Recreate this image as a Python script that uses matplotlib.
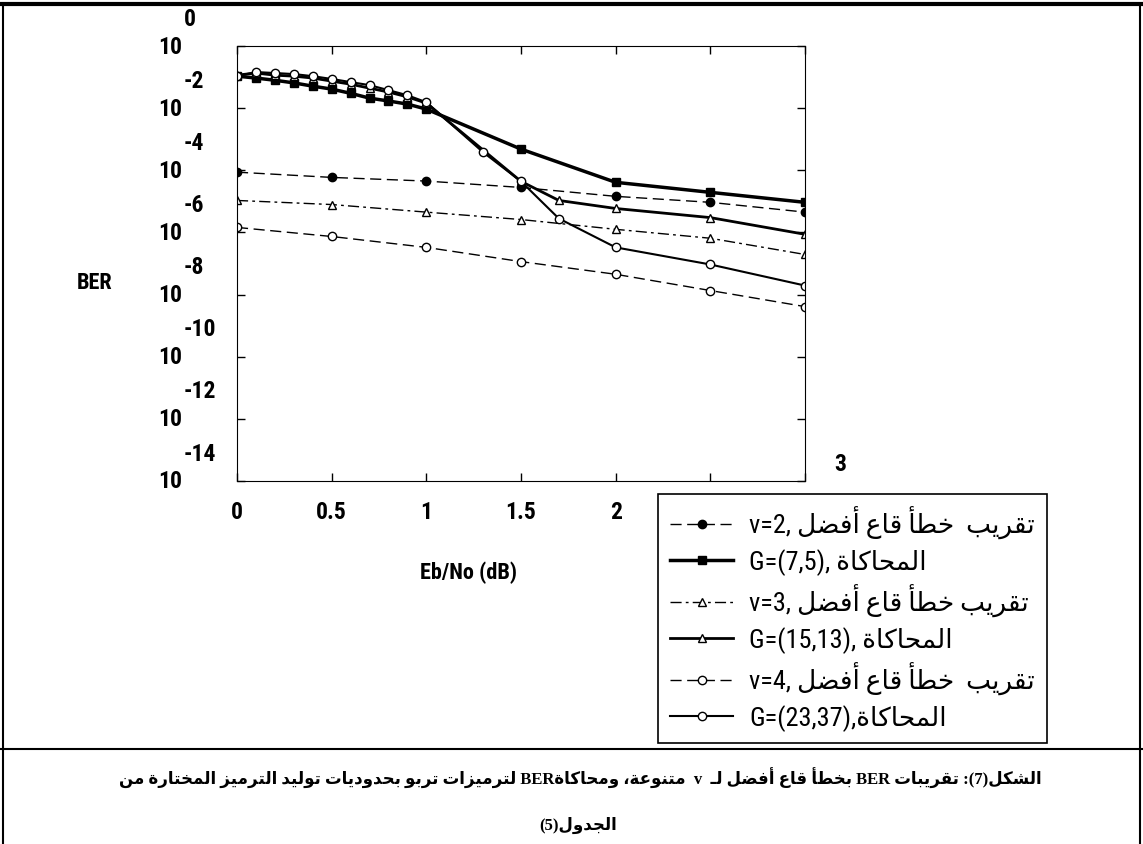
import matplotlib
matplotlib.use('Agg')
import matplotlib.pyplot as plt
from matplotlib import font_manager
from matplotlib.lines import Line2D
from matplotlib.transforms import blended_transform_factory

# ---- data (Eb/No in dB, BER) ----
x_v2_sim = [0, 0.1, 0.2, 0.3, 0.4, 0.5, 0.6, 0.7, 0.8, 0.9, 1.0, 1.5, 2.0, 2.5, 3.0]
ber_v2_sim = [1.07e-1, 9.3e-2, 7.9e-2, 6.5e-2, 5.1e-2, 4.1e-2, 3.0e-2, 2.1e-2, 1.7e-2,
              1.35e-2, 9.3e-3, 4.8e-4, 4.1e-5, 1.95e-5, 9.3e-6]

x_v3_sim = [0, 0.1, 0.2, 0.3, 0.4, 0.5, 0.6, 0.7, 0.8, 0.9, 1.0, 1.5, 1.7, 2.0, 2.5, 3.0]
ber_v3_sim = [1.15e-1, 1.35e-1, 1.15e-1, 1.07e-1, 9.3e-2, 7.4e-2, 5.9e-2, 4.4e-2, 3.3e-2,
              2.3e-2, 1.45e-2, 4.4e-5, 1.07e-5, 5.9e-6, 3.0e-6, 8.7e-7]

x_v4_sim = [0, 0.1, 0.2, 0.3, 0.4, 0.5, 0.6, 0.7, 0.8, 0.9, 1.0, 1.3, 1.5, 1.7, 2.0, 2.5, 3.0]
ber_v4_sim = [1.07e-1, 1.45e-1, 1.35e-1, 1.25e-1, 1.07e-1, 8.7e-2, 6.9e-2, 5.5e-2, 3.8e-2,
              2.6e-2, 1.55e-2, 3.8e-4, 4.4e-5, 2.8e-6, 3.3e-7, 9.3e-8, 1.95e-8]

x_bound = [0, 0.5, 1.0, 1.5, 2.0, 2.5, 3.0]
ber_v2_bound = [8.7e-5, 5.9e-5, 4.5e-5, 2.8e-5, 1.45e-5, 9.3e-6, 4.5e-6]
ber_v3_bound = [1.07e-5, 7.9e-6, 4.5e-6, 2.6e-6, 1.26e-6, 6.5e-7, 1.95e-7]
ber_v4_bound = [1.45e-6, 7.4e-7, 3.3e-7, 1.15e-7, 4.5e-8, 1.35e-8, 4.1e-9]

x_ticks = [0, 0.5, 1, 1.5, 2, 2.5, 3]
x_ticklabels = ['0', '0.5', '1', '1.5', '2', '', '']
y_exponents = [0, -2, -4, -6, -8, -10, -12, -14]


# ---- minimal Arabic shaping (matplotlib has no RTL/joining support) ----
FORMS = {
    'ء': (0xFE80, 1), 'آ': (0xFE81, 2), 'أ': (0xFE83, 2), 'ؤ': (0xFE85, 2), 'إ': (0xFE87, 2),
    'ئ': (0xFE89, 4), 'ا': (0xFE8D, 2), 'ب': (0xFE8F, 4), 'ة': (0xFE93, 2), 'ت': (0xFE95, 4),
    'ث': (0xFE99, 4), 'ج': (0xFE9D, 4), 'ح': (0xFEA1, 4), 'خ': (0xFEA5, 4), 'د': (0xFEA9, 2),
    'ذ': (0xFEAB, 2), 'ر': (0xFEAD, 2), 'ز': (0xFEAF, 2), 'س': (0xFEB1, 4), 'ش': (0xFEB5, 4),
    'ص': (0xFEB9, 4), 'ض': (0xFEBD, 4), 'ط': (0xFEC1, 4), 'ظ': (0xFEC5, 4), 'ع': (0xFEC9, 4),
    'غ': (0xFECD, 4), 'ف': (0xFED1, 4), 'ق': (0xFED5, 4), 'ك': (0xFED9, 4), 'ل': (0xFEDD, 4),
    'م': (0xFEE1, 4), 'ن': (0xFEE5, 4), 'ه': (0xFEE9, 4), 'و': (0xFEED, 2), 'ى': (0xFEEF, 2),
    'ي': (0xFEF1, 4),
}
LAM_ALEF = {'آ': 0xFEF5, 'أ': 0xFEF7, 'إ': 0xFEF9, 'ا': 0xFEFB}
TATWEEL = '\u0640'


def joins_forward(c):
    return c == TATWEEL or (c in FORMS and FORMS[c][1] == 4)


def is_joiner(c):
    return c == TATWEEL or (c in FORMS and FORMS[c][1] > 1)


def ar(text):
    """shape a pure Arabic phrase and return it in visual (left to right) order"""
    out = []
    i, n = 0, len(text)
    while i < n:
        c = text[i]
        linked_prev = i > 0 and joins_forward(text[i - 1])
        if c == 'ل' and i + 1 < n and text[i + 1] in LAM_ALEF:
            out.append(chr(LAM_ALEF[text[i + 1]] + (1 if linked_prev else 0)))
            i += 2
            continue
        if c in FORMS:
            base, k = FORMS[c]
            linked_next = k == 4 and i + 1 < n and is_joiner(text[i + 1])
            if k == 1:
                code = base
            elif linked_prev and linked_next:
                code = base + 3
            elif linked_prev:
                code = base + 1
            elif linked_next:
                code = base + 2
            else:
                code = base
            out.append(chr(code))
        else:
            out.append(c)
        i += 1
    return ''.join(reversed(out))


available = {f.name for f in font_manager.fontManager.ttflist}
narrow = next((f for f in ['Liberation Sans Narrow', 'DejaVu Sans Condensed', 'Roboto Condensed']
               if f in available), 'DejaVu Sans')
label_font = [narrow, 'DejaVu Sans']
caption_font = ['Liberation Serif', 'DejaVu Sans']

legend_labels = [
    'v=2, ' + ar('تقريب  خطأ قاع أفضل'),
    'G=(7,5), ' + ar('المحاكاة'),
    'v=3, ' + ar('تقريب خطأ قاع أفضل'),
    'G=(15,13), ' + ar('المحاكاة'),
    'v=4, ' + ar('تقريب  خطأ قاع أفضل'),
    'G=(23,37),' + ar('المحاكاة'),
]

caption_1 = (ar('لترميزات تربو بحدوديات توليد الترميز المختارة من') + ' BER'
             + ar('متنوعة، ومحاكاة') + '  v  ' + ar('بخطأ قاع أفضل لـ') + ' BER '
             + ar('تقريبات') + ' :(7)' + ar('الشكل'))
caption_2 = '(5)' + ar('الجدول')

W, H = 1143, 845
fig = plt.figure(figsize=(W / 100, H / 100), dpi=100)
ax = fig.add_axes([237 / W, 1 - 482 / H, (805 - 237) / W, (482 - 47) / H])

k = dict(color='black', markersize=6)
l1, = ax.plot(x_bound, ber_v2_bound, marker='o', mfc='black', lw=1, dashes=(8, 4), **k)
l2, = ax.plot(x_v2_sim, ber_v2_sim, '-', marker='s', mfc='black', lw=2.5, **k)
l3, = ax.plot(x_bound, ber_v3_bound, marker='^', mfc='white', lw=1, dashes=(8, 3, 2, 3), **k)
l4, = ax.plot(x_v3_sim, ber_v3_sim, '-', marker='^', mfc='white', lw=2, **k)
l5, = ax.plot(x_bound, ber_v4_bound, marker='o', mfc='white', lw=1, dashes=(8, 4), **k)
l6, = ax.plot(x_v4_sim, ber_v4_sim, '-', marker='o', mfc='white', lw=1.5, **k)

ax.set_yscale('log')
ax.set_xlim(0, 3)
ax.set_ylim(1e-14, 1e0)
ax.set_xticks(x_ticks)
ax.set_xticklabels(x_ticklabels, family=label_font, fontsize=17, weight='bold')
ax.set_yticks([10.0 ** e for e in y_exponents])
ax.set_yticklabels([])
ax.minorticks_off()
ax.tick_params(direction='in', length=6, width=1, top=True, right=True, pad=14)

# y tick labels drawn as "10" with a full-size exponent above right
tr = blended_transform_factory(fig.transFigure, ax.transData)
for e in y_exponents:
    ax.text(182 / W, 10.0 ** e, '10', transform=tr, ha='right', va='center',
            family=label_font, fontsize=17, weight='bold')
    ax.text(184 / W, 10.0 ** (e + 0.9), str(e), transform=tr, ha='left', va='center',
            family=label_font, fontsize=17, weight='bold')

fig.text(95 / W, 1 - 283 / H, 'BER', ha='center', va='center', family=label_font,
         fontsize=16, weight='bold')
fig.text(468 / W, 1 - 573 / H, 'Eb/No (dB)', ha='center', va='center', family=label_font,
         fontsize=16, weight='bold')
fig.text(840 / W, 1 - 465 / H, '3', ha='center', va='center', family=label_font,
         fontsize=17, weight='bold')

leg = fig.legend([l1, l2, l3, l4, l5, l6], legend_labels, loc='upper left',
                 bbox_to_anchor=(658 / W, 1 - 495 / H), borderaxespad=0, frameon=True,
                 fancybox=False, edgecolor='black', framealpha=1, numpoints=1,
                 handlelength=2.4, handletextpad=0.6, labelspacing=0.34, borderpad=0.45,
                 prop=font_manager.FontProperties(family=label_font, size=19))
leg.get_frame().set_linewidth(1.2)

fig.text(580 / W, 1 - 778 / H, caption_1, ha='center', va='center', family=caption_font,
         weight='bold', fontsize=12)
fig.text(578 / W, 1 - 825 / H, caption_2, ha='center', va='center', family=caption_font,
         weight='bold', fontsize=12)

# page frame around the figure and caption
frame = dict(color='black', transform=fig.transFigure)
fig.add_artist(Line2D([0, 1], [1 - 5 / H, 1 - 5 / H], lw=3, **frame))
fig.add_artist(Line2D([3 / W, 3 / W], [0, 1 - 5 / H], lw=1.5, **frame))
fig.add_artist(Line2D([1140 / W, 1140 / W], [0, 1 - 5 / H], lw=1.5, **frame))
fig.add_artist(Line2D([0, 1], [1 - 750 / H, 1 - 750 / H], lw=1.5, **frame))

fig.savefig('out.png', dpi=100)
